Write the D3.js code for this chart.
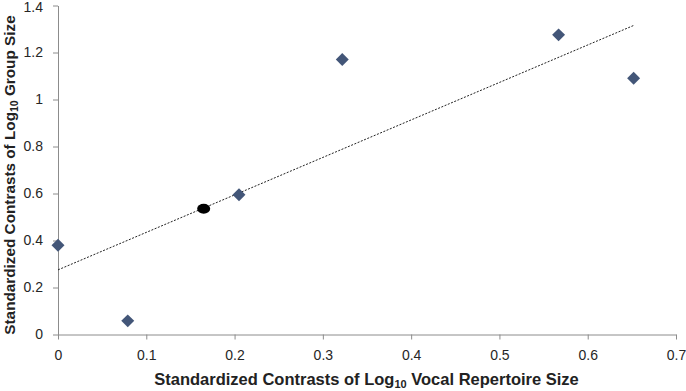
<!DOCTYPE html>
<html><head><meta charset="utf-8">
<script src="https://cdn.jsdelivr.net/npm/d3@7"></script>
<style>body{margin:0;background:#fff;} svg{display:block;font-family:"Liberation Sans",Arial,sans-serif;}</style>
</head><body>
<svg id="c" width="686" height="391"></svg>
<script>
const xVals = [0, 0.079, 0.205, 0.322, 0.567, 0.652];
const yVals = [0.38, 0.058, 0.595, 1.17, 1.275, 1.09];
const meanPoint = [0.165, 0.535];
const trendX = [0, 0.652];
const trendY = [0.275, 1.315];
const xTicks = [0, 0.1, 0.2, 0.3, 0.4, 0.5, 0.6, 0.7];
const yTicks = [0, 0.2, 0.4, 0.6, 0.8, 1, 1.2, 1.4];

const svg = d3.select("#c");
const x = d3.scaleLinear().domain([0, 0.7]).range([58, 676]);
const y = d3.scaleLinear().domain([0, 1.4]).range([334.5, 5.5]);
const axisColor = "#8c8c8c";

const gx = svg.append("g").attr("transform", `translate(0,${y(0)})`)
  .call(d3.axisBottom(x).tickValues(xTicks).tickSize(5).tickSizeOuter(0).tickFormat(d => String(d)));
const gy = svg.append("g").attr("transform", `translate(${x(0)},0)`)
  .call(d3.axisLeft(y).tickValues(yTicks).tickSize(5).tickSizeOuter(0).tickFormat(d => String(d)));
[gx, gy].forEach(g => {
  g.select(".domain").attr("stroke", axisColor);
  g.selectAll(".tick line").attr("stroke", axisColor);
  g.selectAll(".tick text").attr("fill", "#262626").attr("font-size", 14).attr("font-family", '"Liberation Sans",Arial,sans-serif');
});
gx.selectAll(".tick text").attr("dy", "1.05em").attr("y", 11);
gy.selectAll(".tick text").attr("x", -15).attr("dy", d => d === 1.4 ? "0.42em" : "0.32em");

svg.append("line")
  .attr("x1", x(trendX[0])).attr("y1", y(trendY[0]))
  .attr("x2", x(trendX[1])).attr("y2", y(trendY[1]))
  .attr("stroke", "#222").attr("stroke-width", 1).attr("stroke-dasharray", "2,1.5");

const pts = xVals.map((v, i) => [v, yVals[i]]);
svg.selectAll("path.pt").data(pts).enter().append("path")
  .attr("class", "pt")
  .attr("d", d3.symbol().type(d3.symbolSquare).size(84))
  .attr("transform", d => `translate(${x(d[0])},${y(d[1])}) rotate(45)`)
  .attr("fill", "#435678");

svg.append("ellipse")
  .attr("cx", x(meanPoint[0])).attr("cy", y(meanPoint[1]))
  .attr("rx", 6.5).attr("ry", 5).attr("fill", "#000");

const xt = svg.append("text").attr("x", 366.5).attr("y", 385).attr("text-anchor", "middle")
  .attr("font-weight", "bold").attr("font-size", 16.5).attr("fill", "#222");
xt.append("tspan").text("Standardized Contrasts of Log");
xt.append("tspan").attr("font-size", 11).attr("dy", 3).text("10");
xt.append("tspan").attr("dy", -3).text(" Vocal Repertoire Size");

const yt = svg.append("text").attr("transform", "translate(15,175) rotate(-90)").attr("text-anchor", "middle")
  .attr("font-weight", "bold").attr("font-size", 15.3).attr("fill", "#222");
yt.append("tspan").text("Standardized Contrasts of Log");
yt.append("tspan").attr("font-size", 10.5).attr("dy", 3).text("10");
yt.append("tspan").attr("dy", -3).text(" Group Size");
</script>
</body></html>
